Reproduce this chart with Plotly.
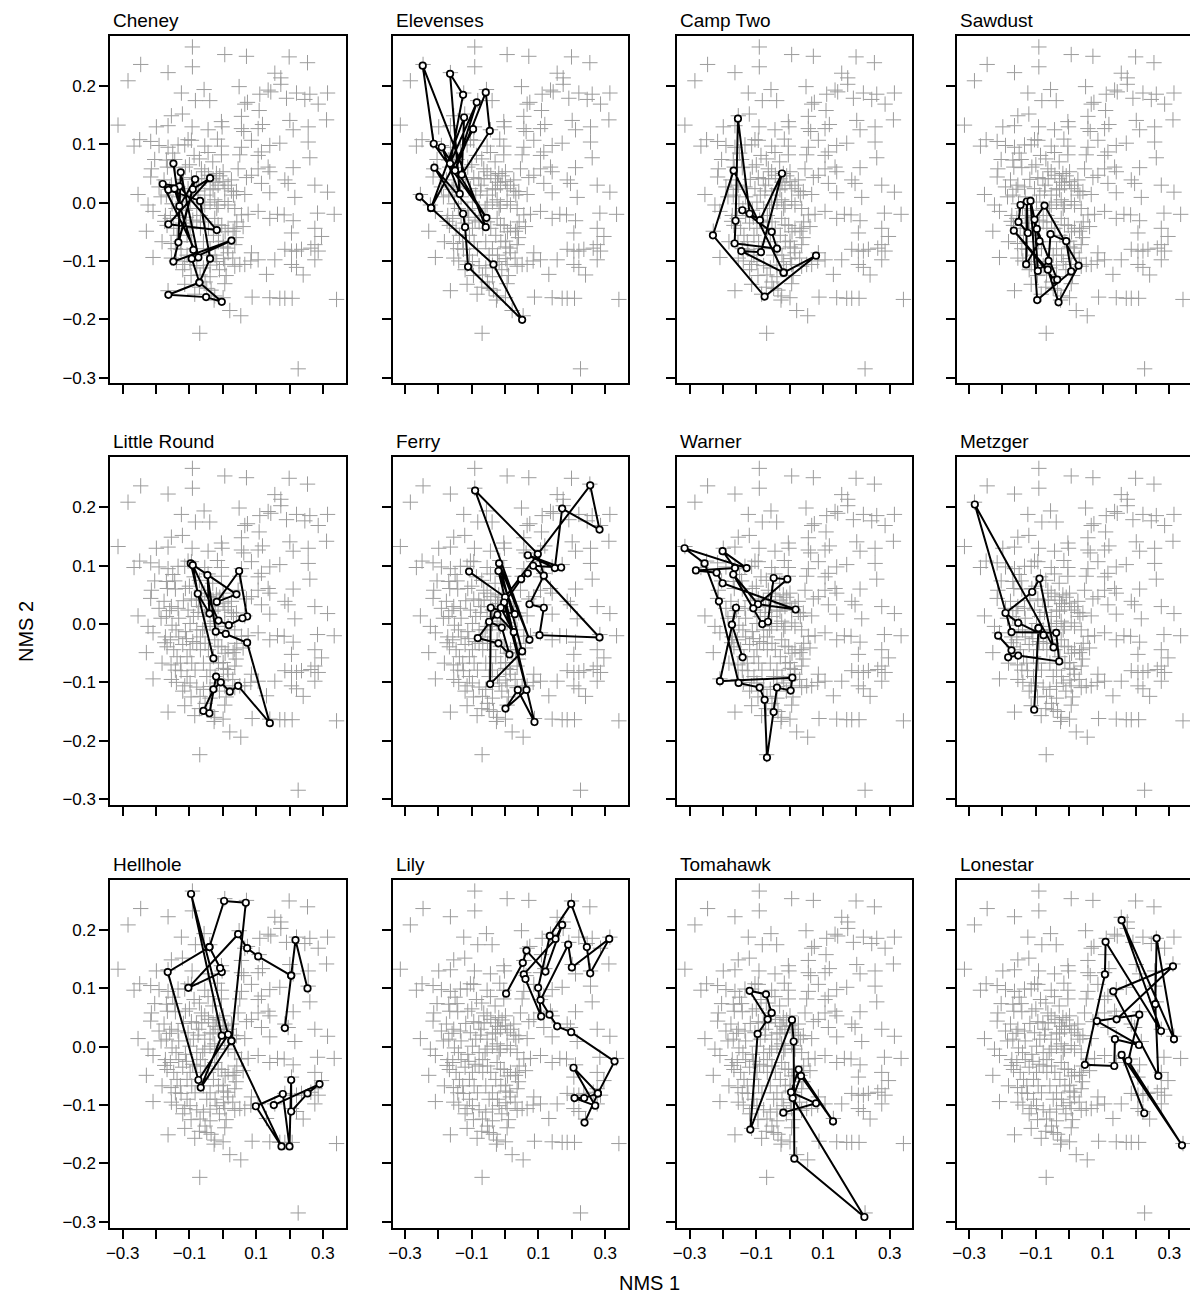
import plotly.graph_objects as go

# ---------------- data (NMS ordination scores) ----------------
lakes = ["Cheney", "Elevenses", "Camp Two", "Sawdust",
         "Little Round", "Ferry", "Warner", "Metzger",
         "Hellhole", "Lily", "Tomahawk", "Lonestar"]

# all samples (grey background cloud), (NMS1, NMS2)
bg_points = [
    (-0.091,0.267),(0.006,0.254),(0.071,0.251),(0.199,0.250),(0.254,0.240),(-0.246,0.237),(-0.091,0.233),
    (-0.164,0.223),(0.156,0.222),(0.174,0.214),(0.174,0.203),(-0.284,0.209),(0.049,0.199),(-0.056,0.194),
    (-0.124,0.188),(0.136,0.193),(0.111,0.186),(0.144,0.190),(0.191,0.179),(0.221,0.188),(0.246,0.177),
    (0.261,0.186),(0.314,0.188),(0.286,0.169),(-0.082,0.175),(-0.039,0.175),(0.074,0.172),(0.066,0.169),
    (0.109,0.158),(-0.121,0.152),(-0.154,0.149),(0.056,0.148),(-0.314,0.133),(-0.199,0.130),(-0.164,0.132),
    (-0.092,0.130),(-0.044,0.125),(-0.004,0.139),(-0.002,0.130),(0.056,0.127),(0.063,0.122),(0.106,0.127),
    (0.119,0.134),(0.201,0.141),(0.211,0.125),(0.256,0.130),(0.311,0.142),(-0.249,0.108),(-0.266,0.097),
    (-0.216,0.105),(-0.191,0.098),(-0.164,0.095),(-0.134,0.099),(-0.104,0.108),(-0.094,0.107),(-0.114,0.099),
    (-0.054,0.097),(-0.016,0.109),(-0.004,0.097),(0.056,0.095),(0.086,0.107),(0.141,0.098),(0.171,0.102),
    (0.256,0.104),(0.261,0.077),(0.116,0.087),(0.106,0.081),(-0.044,0.086),(-0.086,0.081),(-0.004,0.082),
    (0.051,0.082),(-0.204,0.074),(-0.169,0.073),(-0.144,0.074),(-0.214,0.058),(-0.166,0.061),(-0.142,0.060),
    (-0.112,0.061),(-0.064,0.058),(-0.054,0.053),(-0.019,0.050),(0.001,0.053),(0.046,0.058),(0.071,0.043),
    (0.106,0.058),(0.136,0.061),(0.141,0.053),(0.211,0.060),(-0.216,0.044),(-0.176,0.039),(-0.154,0.030),
    (-0.134,0.027),(-0.094,0.043),(-0.079,0.041),(-0.029,0.041),(-0.009,0.046),(0.001,0.036),(0.016,0.030),
    (0.026,0.039),(0.086,0.047),(0.116,0.033),(0.186,0.039),(0.196,0.033),(0.276,0.030),(-0.254,0.014),
    (-0.191,0.027),(-0.159,0.023),(-0.104,0.024),(-0.074,0.020),(-0.054,0.013),(-0.029,0.022),(-0.014,0.030),
    (0.006,0.024),(0.026,0.020),(0.041,0.019),(0.066,0.014),(0.141,0.017),(0.216,0.009),(0.314,0.018),
    (-0.224,-0.004),(-0.209,-0.015),(-0.054,-0.004),(-0.024,0.005),(-0.014,-0.004),(0.006,0.002),(0.016,-0.004),
    (0.036,-0.010),(0.056,-0.021),(0.076,-0.020),(0.106,-0.015),(0.141,-0.027),(0.164,-0.020),(0.184,-0.021),
    (0.211,-0.031),(0.284,-0.018),(0.334,-0.020),(-0.229,-0.049),(-0.174,-0.032),(-0.024,-0.027),(-0.014,-0.038),
    (0.016,-0.044),(0.031,-0.049),(0.036,-0.044),(0.061,-0.041),(0.206,-0.052),(0.276,-0.044),(0.296,-0.058),
    (0.001,-0.066),(0.014,-0.078),(0.016,-0.086),(0.036,-0.072),(0.086,-0.086),(0.106,-0.098),(0.084,-0.100),
    (0.156,-0.098),(0.186,-0.080),(0.206,-0.083),(0.221,-0.083),(0.236,-0.080),(0.264,-0.078),(0.276,-0.072),
    (0.286,-0.083),(0.276,-0.098),(-0.209,-0.094),(-0.154,-0.095),(-0.139,-0.100),(-0.114,-0.106),(0.006,-0.106),
    (0.036,-0.109),(0.051,-0.106),(0.066,-0.106),(0.206,-0.106),(0.221,-0.111),(0.241,-0.124),(0.131,-0.123),
    (0.006,-0.139),(-0.164,-0.151),(-0.114,-0.140),(-0.084,-0.157),(-0.024,-0.160),(0.001,-0.163),(0.088,-0.162),
    (0.141,-0.163),(0.171,-0.164),(0.186,-0.164),(0.208,-0.164),(0.341,-0.166),(0.021,-0.185),(0.054,-0.194),
    (-0.069,-0.224),(0.226,-0.285),
    (-0.169,0.013),(-0.132,0.010),(-0.152,-0.002),(-0.157,-0.027),(-0.167,-0.039),(-0.147,-0.044),(-0.132,-0.022),
    (-0.112,-0.013),(-0.098,0.001),(-0.088,0.013),(-0.072,0.030),(-0.063,0.041),(-0.043,0.047),(0.032,0.013),
    (-0.078,-0.010),(-0.067,-0.022),(-0.078,-0.033),(-0.067,-0.044),(-0.053,-0.033),(-0.043,-0.044),(-0.028,-0.056),
    (-0.013,-0.067),(0.002,-0.076),(-0.137,-0.056),(-0.127,-0.067),(-0.142,-0.079),(-0.107,-0.090),(-0.098,-0.101),
    (-0.078,-0.108),(-0.058,-0.112),(-0.038,-0.107),(-0.018,-0.101),(-0.068,-0.124),(-0.053,-0.136),(-0.048,-0.147),
    (-0.038,-0.127),(-0.026,-0.167),(-0.182,-0.067),(-0.172,-0.022),(-0.109,-0.025),(-0.098,-0.044),(-0.107,-0.056),
    (-0.093,-0.067),(-0.083,-0.079),(-0.058,-0.067),(-0.038,-0.079),(-0.023,-0.090),(0.002,-0.096),(-0.048,-0.090),
    (-0.003,-0.039),(0.007,-0.050),(0.042,-0.033),(-0.018,-0.010),(-0.038,0.001),(-0.038,0.024),(-0.023,0.035),
    (-0.120,-0.035),(-0.185,0.010),(-0.140,-0.010),(-0.118,0.040),(-0.090,-0.030),(-0.060,-0.010),(-0.100,0.065),
    (-0.150,0.085),(-0.030,0.070),(-0.070,0.075),(-0.125,-0.080),(-0.155,-0.070),(-0.120,-0.115),(-0.095,-0.125),
    (-0.070,-0.145),(-0.035,-0.150),(0.010,-0.125),(0.030,-0.095),(0.040,-0.060),(-0.010,-0.115),
]

# per-lake trajectories through time (None = gap)
cheney = [(-0.148,0.067),(-0.130,-0.006),(-0.083,0.040),(-0.133,-0.068),(-0.126,0.052),(-0.073,-0.094),
          (-0.180,0.032),(-0.130,0.028),(-0.018,-0.047),(-0.163,-0.037),(-0.038,0.042),(-0.090,0.023),
          (-0.148,-0.101),(0.026,-0.065),(-0.093,-0.096),(-0.070,-0.137),(-0.163,-0.158),(-0.050,-0.162),
          (-0.003,-0.170),(-0.070,-0.137),(-0.038,-0.096),(-0.068,0.003),(-0.163,0.022),(-0.145,0.024),(-0.088,-0.081)]
elevenses = [(-0.257,0.010),(-0.222,-0.009),(-0.035,-0.106),(0.051,-0.201),(-0.111,-0.110),(-0.120,-0.042),
             (-0.126,-0.019),(-0.212,0.060),(-0.058,-0.042),(-0.247,0.235),(-0.214,0.101),(-0.056,-0.026),
             (-0.190,0.095),(-0.136,0.015),(-0.165,0.221),(-0.126,0.185),(-0.165,0.067),(-0.085,0.172),
             (-0.150,0.055),(-0.058,0.189),(-0.046,0.123),(-0.130,0.048),(-0.123,0.146),(-0.222,-0.009),
             (-0.096,0.126)]
camp_two = [(-0.142,-0.013),(-0.054,-0.050),(-0.038,-0.079),(-0.165,-0.070),(-0.162,-0.031),(-0.155,0.144),
            (-0.120,-0.019),(-0.089,-0.030),(-0.023,0.050),(-0.086,-0.085),(-0.145,-0.083),(-0.018,-0.120),
            (0.079,-0.091),(-0.075,-0.161),(-0.230,-0.056),(-0.168,0.055),(-0.018,-0.120)]
sawdust = [(-0.146,-0.004),(-0.152,-0.033),(-0.124,-0.052),(-0.127,0.002),(-0.129,-0.106),(-0.089,-0.066),
           (-0.116,0.003),(-0.096,-0.167),(0.006,-0.118),(-0.009,-0.066),(-0.056,-0.054),(-0.062,-0.100),
           (-0.094,-0.117),(-0.104,-0.029),(-0.074,-0.005),(0.028,-0.108),(-0.032,-0.171),(-0.064,-0.115),
           (-0.166,-0.048),(-0.044,-0.133),(-0.036,-0.132),(-0.097,-0.045)]
little_round = [(-0.028,-0.059),(-0.096,0.104),(0.041,0.051),(-0.018,0.038),(0.049,0.091),(0.073,0.013),
                (0.059,0.010),(0.018,-0.002),(-0.013,0.006),(-0.090,0.101),(-0.075,0.052),(-0.040,0.018),
                (-0.046,0.084),(-0.021,-0.013),(0.009,-0.017),(0.073,-0.032),(0.141,-0.170),(0.046,-0.106),
                (0.021,-0.116),(-0.006,-0.100),(-0.028,-0.112),(-0.058,-0.149),(-0.040,-0.153),(-0.020,-0.090)]
ferry = [(-0.108,0.090),(0.000,0.046),(0.255,0.238),(0.283,0.162),(0.171,0.198),(0.149,0.096),(0.068,0.118),
         (0.168,0.097),(0.084,0.100),(0.283,-0.023),(0.103,-0.019),(0.116,0.028),(0.073,0.034),(0.116,0.083),
         (0.098,0.120),(-0.090,0.229),(0.073,-0.027),(-0.018,0.104),(0.051,-0.047),(-0.045,-0.103),(-0.043,0.028),
         (0.029,0.017),(-0.020,0.091),(0.088,-0.168),(0.038,-0.113),(0.001,-0.145),(0.064,-0.113),(-0.003,0.037),
         (-0.082,-0.024),(-0.020,-0.033),(0.013,-0.052),(-0.010,-0.006),(-0.048,0.004),(-0.023,0.016),
         (0.026,-0.014),(-0.013,0.028),(0.048,0.077),(0.068,0.087)]
warner = [(-0.141,-0.057),(-0.173,-0.001),(-0.161,0.028),(-0.209,-0.098),(0.008,-0.092),(0.003,-0.114),
          (-0.038,-0.109),(-0.048,-0.151),(-0.068,-0.229),(-0.075,-0.130),(-0.090,-0.109),(-0.153,-0.101),
          (-0.212,0.039),(-0.255,0.104),(-0.315,0.130),(-0.129,0.096),(-0.201,0.125),(-0.164,0.096),
          (-0.281,0.092),(-0.219,0.088),(-0.201,0.070),(0.018,0.025),(-0.095,0.034),(-0.169,0.085),
          (-0.082,0.000),(-0.065,0.004),(-0.048,0.079),(-0.007,0.077),(-0.109,0.027)]
metzger = [(-0.213,-0.020),(-0.173,-0.045),(-0.183,-0.057),(-0.153,-0.054),(-0.030,-0.064),(-0.039,-0.015),
           (-0.173,-0.014),(-0.283,0.205),(-0.047,-0.040),(-0.089,0.078),(-0.111,0.055),(-0.191,0.019),
           (-0.153,0.002),(-0.077,-0.019),(-0.092,-0.007),(-0.105,-0.147),(-0.092,-0.007)]
hellhole = [(0.254,0.100),(0.218,0.183),(0.205,0.122),(0.186,0.032), None,
            (0.205,0.122),(0.106,0.155),(0.073,0.169),(0.046,0.193),(-0.103,0.101),(-0.003,0.128), None,
            (-0.008,0.135),(-0.040,0.171),(-0.165,0.128),(-0.073,-0.057),(0.016,0.021),(-0.095,0.262),
            (-0.003,0.019),(-0.066,-0.070),(0.026,0.010),(0.069,0.247),(0.004,0.250),(-0.040,0.171), None,
            (0.026,0.010),(0.176,-0.171),(0.099,-0.102),(0.180,-0.081),(0.200,-0.171),(0.205,-0.057),
            (0.205,-0.111),(0.254,-0.080),(0.290,-0.064),(0.153,-0.100)]
lily = [(0.003,0.091),(0.053,0.144),(0.064,0.165),(0.121,0.129),(0.171,0.209),(0.151,0.185),(0.056,0.124),
        (0.061,0.116),(0.108,0.052),(0.099,0.101),(0.134,0.190),(0.198,0.245),(0.245,0.171),(0.255,0.126),
        (0.312,0.185),(0.200,0.136),(0.189,0.175),(0.106,0.080),(0.133,0.055),(0.156,0.035),(0.198,0.025),
        (0.328,-0.025),(0.278,-0.080),(0.205,-0.036),(0.270,-0.101),(0.208,-0.088),(0.237,-0.088),
        (0.278,-0.080),(0.238,-0.130)]
tomahawk = [(-0.054,0.058),(-0.071,0.090),(-0.120,0.096),(-0.066,0.047),(-0.096,0.022),(-0.118,-0.142),
            (0.007,0.046),(0.012,0.009),(0.014,-0.192),(0.224,-0.292),(0.009,-0.088),(0.034,-0.050),
            (0.130,-0.128),(0.027,-0.039),(0.004,-0.078),(0.079,-0.097),(-0.019,-0.113)]
lonestar = [(0.225,-0.114),(0.157,-0.014),(0.338,-0.169),(0.177,-0.024),(0.210,0.055),(0.083,0.044),
            (0.209,0.003),(0.137,0.013),(0.135,-0.033),(0.047,-0.031),(0.107,0.124),(0.109,0.180),
            (0.275,0.027),(0.157,0.217),(0.314,0.013),(0.262,0.186),(0.258,0.073),(0.267,-0.050),
            (0.132,0.095),(0.311,0.138),(0.142,0.047)]

trajectories = [cheney, elevenses, camp_two, sawdust, little_round, ferry,
                warner, metzger, hellhole, lily, tomahawk, lonestar]

x_ticks = [-0.3, -0.2, -0.1, 0.0, 0.1, 0.2, 0.3]
x_tick_labels = ["\u22120.3", "", "\u22120.1", "", "0.1", "", "0.3"]
y_ticks = [-0.3, -0.2, -0.1, 0.0, 0.1, 0.2]
y_tick_labels = ["\u22120.3", "\u22120.2", "\u22120.1", "0.0", "0.1", "0.2"]

# ---------------- layout geometry ----------------
W, H = 1190, 1304
col_left = [106.7, 390.0, 675.5, 956.0]
row_top = [36.0, 458.7, 882.7]
pw, ph = 236.0, 348.6
XR = [-0.337, 0.368]
YR = [-0.310, 0.286]
FONT = "Liberation Sans, Arial, Helvetica, sans-serif"

fig = go.Figure()
layout = {}
annotations = []

for i, name in enumerate(lakes):
    r, c = divmod(i, 4)
    n = i + 1
    xs = "" if n == 1 else str(n)
    left = col_left[c]
    right = left + pw
    xr = list(XR)
    if right > W:
        xr[1] = XR[0] + (W - left) / pw * (XR[1] - XR[0])
        right = W
    top = row_top[r]
    bot = top + ph
    xdom = [left / W, right / W]
    ydom = [1 - bot / H, 1 - top / H]

    bx = [p[0] for p in bg_points]
    by = [p[1] for p in bg_points]
    fig.add_trace(go.Scatter(
        x=bx, y=by, mode="markers", xaxis="x" + xs, yaxis="y" + xs,
        marker=dict(symbol="cross-thin", size=11, line=dict(width=1, color="#9c9c9c")),
        hoverinfo="skip", showlegend=False))

    tr = trajectories[i]
    tx = [None if p is None else p[0] for p in tr]
    ty = [None if p is None else p[1] for p in tr]
    fig.add_trace(go.Scatter(
        x=tx, y=ty, mode="lines+markers", xaxis="x" + xs, yaxis="y" + xs,
        line=dict(color="black", width=2),
        marker=dict(symbol="circle", size=6.5, color="white", line=dict(width=1.7, color="black")),
        connectgaps=False, showlegend=False, hoverinfo="skip"))

    layout["xaxis" + xs] = dict(
        domain=xdom, range=xr, anchor="y" + xs,
        showline=True, mirror=True, linecolor="black", linewidth=2,
        ticks="outside", ticklen=9, tickwidth=2, tickcolor="black",
        tickvals=x_ticks, ticktext=x_tick_labels if r == 2 else [""] * len(x_ticks),
        showticklabels=(r == 2),
        tickfont=dict(family=FONT, size=17, color="black"),
        showgrid=False, zeroline=False, fixedrange=True)
    layout["yaxis" + xs] = dict(
        domain=ydom, range=YR, anchor="x" + xs,
        showline=True, mirror=(c != 3), linecolor="black", linewidth=2,
        ticks="outside", ticklen=9, tickwidth=2, tickcolor="black",
        tickvals=y_ticks, ticktext=y_tick_labels,
        showticklabels=(c == 0),
        tickfont=dict(family=FONT, size=17, color="black"),
        showgrid=False, zeroline=False, fixedrange=True)

    annotations.append(dict(
        text=name, xref="paper", yref="paper",
        x=(left + 1) / W, y=1 - (top - 3) / H, xanchor="left", yanchor="bottom",
        showarrow=False, font=dict(family=FONT, size=19, color="black")))

annotations.append(dict(text="NMS 1", xref="paper", yref="paper", x=648 / W, y=1 - 1287 / H,
                        xanchor="center", yanchor="middle", showarrow=False,
                        font=dict(family=FONT, size=20, color="black")))
annotations.append(dict(text="NMS 2", xref="paper", yref="paper", x=22 / W, y=1 - 633 / H,
                        xanchor="center", yanchor="middle", showarrow=False, textangle=-90,
                        font=dict(family=FONT, size=20, color="black")))

fig.update_layout(width=W, height=H, margin=dict(l=0, r=0, t=0, b=0),
                  paper_bgcolor="white", plot_bgcolor="white",
                  annotations=annotations, **layout)

fig.write_html("out.html")
